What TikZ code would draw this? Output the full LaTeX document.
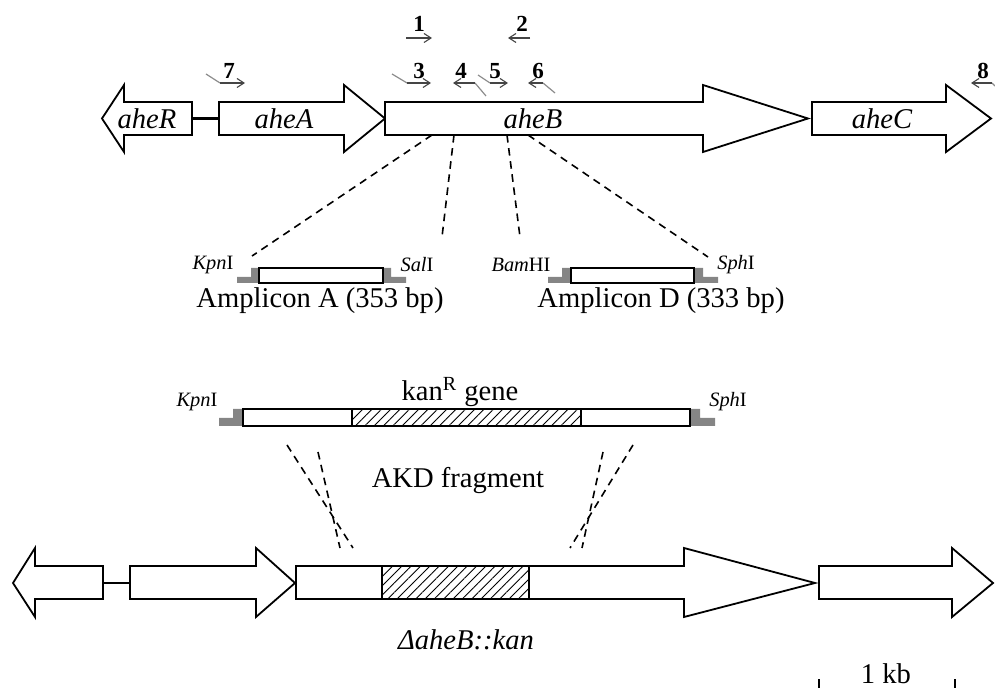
\documentclass[tikz,border=0pt]{standalone}
\usepackage{fontspec}
\setmainfont{Liberation Serif}
\usepackage{tikz}
\usetikzlibrary{arrows.meta,patterns.meta}
\definecolor{siteGray}{HTML}{858585}
\definecolor{primerInk}{HTML}{454545}
\definecolor{primerTail}{HTML}{8C8C8C}

\begin{document}
\begin{tikzpicture}[
  x=0.5pt, y=-0.5pt,
  gene/.style={draw=black, fill=white, line width=0.9pt, line join=miter},
  genelab/.style={font=\fontsize{14.3}{16}\selectfont\itshape, inner sep=0pt},
  bigtext/.style={font=\fontsize{14.3}{16}\selectfont, inner sep=0pt},
  site/.style={font=\fontsize{10.2}{12}\selectfont, inner sep=0pt},
  num/.style={font=\fontsize{11.5}{13}\selectfont\bfseries, inner sep=0pt},
  primer/.style={-{Straight Barb[length=3.5pt,width=4.5pt]}, draw=primerInk, line width=0.55pt},
  tail/.style={draw=primerTail, line width=0.6pt},
  guide/.style={dash pattern=on 3.8pt off 2.8pt, line width=0.8pt},
  box/.style={draw=black, fill=white, line width=0.9pt},
  sitecap/.style={fill=siteGray, draw=none},
  hatch/.style={draw=black, line width=0.9pt,
    pattern={Lines[angle=45,distance=3.3pt,line width=0.45pt]}}
]
  \useasboundingbox (0,0) rectangle (995,688);

  % wild-type locus
  \draw[gene] (192,102) -- (124,102) -- (124,85) -- (102,118.5) -- (124,152) -- (124,135) -- (192,135) -- cycle;
  \draw[gene] (219,102) -- (344,102) -- (344,85) -- (385,118.5) -- (344,152) -- (344,135) -- (219,135) -- cycle;
  \draw[gene] (385,102) -- (703,102) -- (703,85) -- (808,118.5) -- (703,152) -- (703,135) -- (385,135) -- cycle;
  \draw[gene] (812,102) -- (946,102) -- (946,85) -- (991,118.5) -- (946,152) -- (946,135) -- (812,135) -- cycle;
  \coordinate (rEnd) at (192,118.5);
  \coordinate (aStart) at (219,118.5);
  \draw[line width=1.2pt] (rEnd) -- (aStart);

  \node[genelab] (aheR) at (147,118.5) {aheR};
  \node[genelab] (aheA) at (284,118.5) {aheA};
  \node[genelab] (aheB) at (533,118.5) {aheB};
  \node[genelab] (aheC) at (882,118.5) {aheC};

  % primers
  \node[num] (n1) at (419,24) {1};
  \node[num] (n2) at (522,24) {2};
  \node[num] (n3) at (419,71) {3};
  \node[num] (n4) at (461,71) {4};
  \node[num] (n5) at (495,71) {5};
  \node[num] (n6) at (538,71) {6};
  \node[num] (n7) at (229,71) {7};
  \node[num] (n8) at (983,71) {8};

  \coordinate (p1a) at (406,38);  \coordinate (p1b) at (432,38);
  \coordinate (p2a) at (530,38);  \coordinate (p2b) at (508,38);
  \coordinate (p3t) at (392,74);  \coordinate (p3a) at (407,83);  \coordinate (p3b) at (431,83);
  \coordinate (p4t) at (486,96);  \coordinate (p4a) at (475,83);  \coordinate (p4b) at (453,83);
  \coordinate (p5t) at (478,75);  \coordinate (p5a) at (490,83);  \coordinate (p5b) at (508,83);
  \coordinate (p6t) at (555,93);  \coordinate (p6a) at (543,83);  \coordinate (p6b) at (528,83);
  \coordinate (p7t) at (206,74);  \coordinate (p7a) at (220,83);  \coordinate (p7b) at (245,83);
  \coordinate (p8t) at (995,86);  \coordinate (p8a) at (992,83);  \coordinate (p8b) at (971,83);

  \draw[primer] (p1a) -- (p1b);
  \draw[primer] (p2a) -- (p2b);
  \foreach \p in {3,4,5,6,7,8} {
    \draw[tail] (p\p t) -- (p\p a);
    \draw[primer] (p\p a) -- (p\p b);
  }

  % amplicons
  \fill[sitecap] (237,277) -- (251,277) -- (251,268) -- (259,268) -- (259,283) -- (237,283) -- cycle;
  \fill[sitecap] (383,268) -- (391,268) -- (391,277) -- (406,277) -- (406,283) -- (383,283) -- cycle;
  \draw[box] (259,268) rectangle (383,283);
  \fill[sitecap] (548,277) -- (562,277) -- (562,268) -- (571,268) -- (571,283) -- (548,283) -- cycle;
  \fill[sitecap] (694,268) -- (703,268) -- (703,277) -- (718,277) -- (718,283) -- (694,283) -- cycle;
  \draw[box] (571,268) rectangle (694,283);

  \node[site] (kpnA) at (213,265) {\textit{Kpn}I};
  \node[site] (salA) at (417,265) {\textit{Sal}I};
  \node[site] (bamD) at (521,265) {\textit{Bam}HI};
  \node[site] (sphD) at (736,265) {\textit{Sph}I};
  \node[bigtext] (ampA) at (320,301) {Amplicon A (353 bp)};
  \node[bigtext] (ampD) at (661,301) {Amplicon D (333 bp)};

  \coordinate (bA) at (432,135);  \coordinate (eA) at (252,256);
  \coordinate (bS) at (454,135);  \coordinate (eS) at (442,237);
  \coordinate (bB) at (507,135);  \coordinate (eB) at (520,237);
  \coordinate (bP) at (528,135);  \coordinate (eP) at (708,257);
  \draw[guide] (bA) -- (eA);
  \draw[guide] (bS) -- (eS);
  \draw[guide] (bB) -- (eB);
  \draw[guide] (bP) -- (eP);

  % AKD fragment
  \node[bigtext] (kanlab) at (460,392) {kan\textsuperscript{R} gene};
  \fill[sitecap] (219,418) -- (233,418) -- (233,409) -- (243,409) -- (243,426) -- (219,426) -- cycle;
  \fill[sitecap] (690,409) -- (700,409) -- (700,418) -- (715,418) -- (715,426) -- (690,426) -- cycle;
  \draw[box] (243,409) rectangle (690,426);
  \draw[hatch] (352,409) rectangle (581,426);
  \node[site] (kpnK) at (197,402) {\textit{Kpn}I};
  \node[site] (sphK) at (728,402) {\textit{Sph}I};
  \node[bigtext] (akd) at (458,481) {AKD fragment};

  \coordinate (l1a) at (287,445);  \coordinate (l1b) at (353,548);
  \coordinate (l2a) at (318,452);  \coordinate (l2b) at (340,548);
  \coordinate (r1a) at (633,445);  \coordinate (r1b) at (570,548);
  \coordinate (r2a) at (603,452);  \coordinate (r2b) at (582,548);
  \draw[guide] (l1a) -- (l1b);
  \draw[guide] (l2a) -- (l2b);
  \draw[guide] (r1a) -- (r1b);
  \draw[guide] (r2a) -- (r2b);

  % mutant locus
  \draw[gene] (103,566) -- (35,566) -- (35,548) -- (13,583) -- (35,617) -- (35,599) -- (103,599) -- cycle;
  \draw[gene] (130,566) -- (256,566) -- (256,548) -- (295,583) -- (256,617) -- (256,599) -- (130,599) -- cycle;
  \draw[gene] (296,566) -- (684,566) -- (684,548) -- (815,583) -- (684,617) -- (684,599) -- (296,599) -- cycle;
  \draw[hatch] (382,566) rectangle (529,599);
  \draw[gene] (819,566) -- (952,566) -- (952,548) -- (993,583) -- (952,617) -- (952,599) -- (819,599) -- cycle;
  \coordinate (mrEnd) at (103,583);
  \coordinate (maStart) at (130,583);
  \draw[line width=1.2pt] (mrEnd) -- (maStart);

  \node[genelab] (delta) at (466,640) {ΔaheB::kan};

  % scale bar
  \node[bigtext] (kb) at (886,674) {1 kb};
  \coordinate (sbL) at (819,679);
  \coordinate (sbR) at (955,679);
  \draw[line width=0.7pt] (sbL) -- ++(0,9);
  \draw[line width=0.7pt] (sbR) -- ++(0,9);
  \draw[line width=0.5pt] ([yshift=-8pt]sbL) -- ([yshift=-8pt]sbR);
\end{tikzpicture}
\end{document}
